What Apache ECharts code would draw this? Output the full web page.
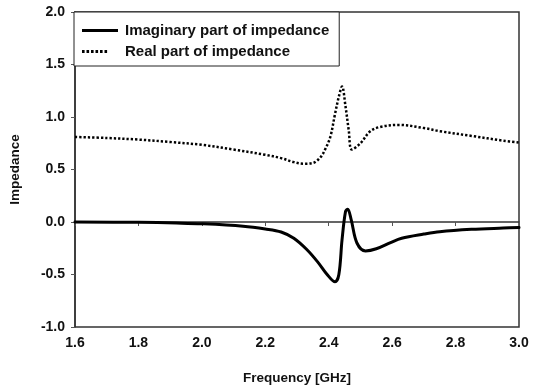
<!DOCTYPE html>
<html>
<head>
<meta charset="utf-8">
<script src="https://cdn.jsdelivr.net/npm/echarts@6/dist/echarts.min.js"></script>
<style>
  html, body { margin: 0; padding: 0; background: #fff; }
  #chart { width: 534px; height: 390px; }
</style>
</head>
<body>
<div id="chart"></div>
<script>
// Impedance of the antenna versus frequency (GHz)
const imagFreq = [1.60, 1.80, 1.92, 2.00, 2.13, 2.20, 2.25, 2.29, 2.33, 2.365, 2.395, 2.42, 2.432, 2.442, 2.453, 2.460, 2.471, 2.489, 2.516, 2.55, 2.595, 2.63, 2.70, 2.75, 2.85, 2.95, 3.00];
const imagValues = [0.0, -0.003, -0.01, -0.017, -0.04, -0.066, -0.095, -0.155, -0.26, -0.38, -0.50, -0.57, -0.50, -0.17, 0.10, 0.122, 0.02, -0.20, -0.275, -0.255, -0.196, -0.155, -0.115, -0.092, -0.07, -0.058, -0.053];

const realFreq = [1.60, 1.70, 1.80, 1.90, 2.00, 2.10, 2.20, 2.25, 2.29, 2.32, 2.35, 2.375, 2.39, 2.405, 2.42, 2.432, 2.442, 2.453, 2.463, 2.473, 2.50, 2.53, 2.56, 2.62, 2.70, 2.75, 2.85, 2.95, 3.00];
const realValues = [0.81, 0.80, 0.785, 0.762, 0.735, 0.69, 0.64, 0.608, 0.57, 0.555, 0.562, 0.62, 0.70, 0.81, 1.03, 1.195, 1.29, 1.10, 0.878, 0.69, 0.75, 0.862, 0.904, 0.925, 0.895, 0.865, 0.82, 0.775, 0.757];

const seriesNames = ['Imaginary part of impedance', 'Real part of impedance'];
const xTicks = { min: 1.6, max: 3.0, step: 0.2 };
const yTicks = { min: -1.0, max: 2.0, step: 0.5 };

const pairs = (xs, ys) => xs.map((x, i) => [x, ys[i]]);

// Legend keys: a solid bar and a row of square dots, both 36 x 3 px
const solidKey = 'path://M0,0h36v3h-36z';
const dottedKey = 'path://' +
  [0, 4.5, 9, 13.5, 18, 22.5].map(x => `M${x},0h2.6v3h-2.6z`).join(' ') +
  ' M35.95,1.4h0.05v0.05h-0.05z';

const font = 'Liberation Sans, Arial, sans-serif';
const chart = echarts.init(document.getElementById('chart'), null, { renderer: 'canvas' });

chart.setOption({
  animation: false,
  backgroundColor: '#ffffff',
  grid: {
    left: 74, right: 15, top: 12, bottom: 63,
    show: true, borderColor: '#333', borderWidth: 1.5, backgroundColor: 'transparent'
  },
  legend: {
    orient: 'vertical',
    left: 74, top: 12,
    padding: [11, 10, 7, 8],
    itemGap: 6,
    itemWidth: 36, itemHeight: 3,
    backgroundColor: '#fff',
    borderColor: '#222', borderWidth: 1,
    borderRadius: 0,
    itemStyle: { color: '#000', borderWidth: 0 },
    lineStyle: { width: 0 },
    textStyle: { fontFamily: font, fontSize: 15, fontWeight: 'bold', color: '#111', padding: [0, 0, 0, 2] },
    data: [
      { name: seriesNames[0], icon: solidKey },
      { name: seriesNames[1], icon: dottedKey }
    ]
  },
  xAxis: {
    type: 'value',
    min: xTicks.min, max: xTicks.max, interval: xTicks.step,
    name: 'Frequency [GHz]',
    nameLocation: 'middle', nameGap: 44,
    nameTextStyle: { fontFamily: font, fontSize: 13.5, fontWeight: 'bold', color: '#111' },
    axisLine: { lineStyle: { color: '#333', width: 1.5 } },
    axisTick: { show: true, inside: false, length: 4, lineStyle: { color: '#555', width: 1 } },
    axisLabel: {
      fontFamily: font, fontSize: 14, fontWeight: 'bold', color: '#111', margin: 9,
      formatter: v => v.toFixed(1)
    },
    splitLine: { show: false }
  },
  yAxis: {
    type: 'value',
    min: yTicks.min, max: yTicks.max, interval: yTicks.step,
    name: 'Impedance',
    nameLocation: 'middle', nameGap: 53,
    nameTextStyle: { fontFamily: font, fontSize: 13.5, fontWeight: 'bold', color: '#111' },
    axisLine: { show: true, lineStyle: { color: '#333', width: 1.5 } },
    axisTick: { show: true, inside: false, length: 4, lineStyle: { color: '#555', width: 1 } },
    axisLabel: {
      fontFamily: font, fontSize: 14, fontWeight: 'bold', color: '#111', margin: 10,
      formatter: v => v.toFixed(1)
    },
    splitLine: { show: false }
  },
  series: [
    {
      name: seriesNames[0],
      type: 'line',
      data: pairs(imagFreq, imagValues),
      showSymbol: false, symbol: 'none',
      smooth: 0.35,
      lineStyle: { color: '#000', width: 3, type: 'solid', cap: 'round', join: 'round' },
      itemStyle: { color: '#000' },
      z: 3
    },
    {
      name: seriesNames[1],
      type: 'line',
      data: pairs(realFreq, realValues),
      showSymbol: false, symbol: 'none',
      smooth: 0.35,
      lineStyle: { color: '#000', width: 2.5, type: [2.3, 2.0], cap: 'butt' },
      itemStyle: { color: '#000' },
      z: 3
    }
  ]
});
</script>
</body>
</html>
